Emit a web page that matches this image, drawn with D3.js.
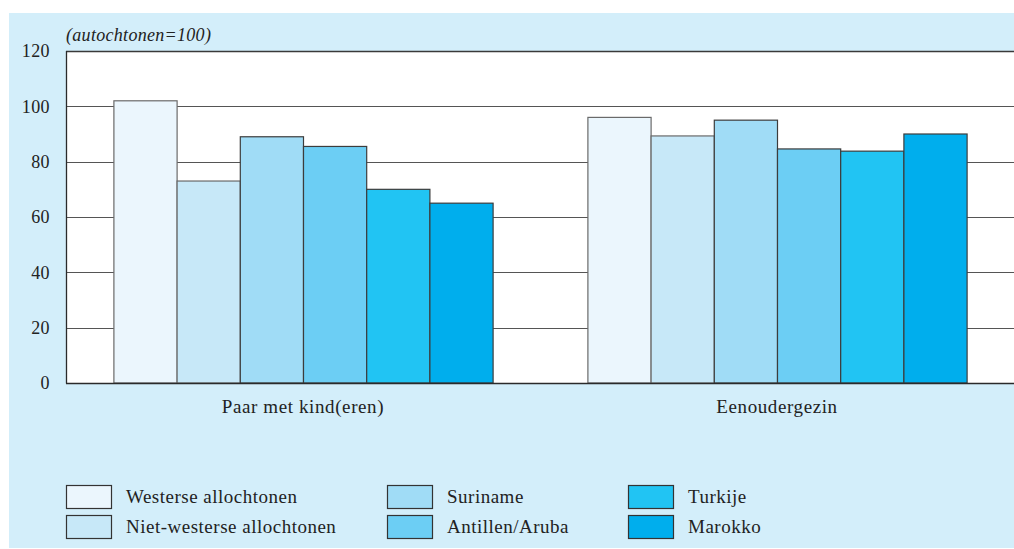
<!DOCTYPE html>
<html>
<head>
<meta charset="utf-8">
<script src="https://cdn.jsdelivr.net/npm/d3@7"></script>
<style>
  html, body { margin: 0; padding: 0; background: #ffffff; }
  svg { display: block; }
  text { font-family: "Liberation Serif", "DejaVu Serif", serif; fill: #222; }
</style>
</head>
<body>
<svg id="chart" width="1014" height="549"></svg>
<script>
// Household types and population groups (index, autochtonen = 100)
const categories = ["Paar met kind(eren)", "Eenoudergezin"];
const seriesNames = ["Westerse allochtonen", "Niet-westerse allochtonen", "Suriname", "Antillen/Aruba", "Turkije", "Marokko"];
const paarMetKind = [102, 73, 89, 85.5, 70, 65];
const eenoudergezin = [96, 89.3, 95, 84.6, 83.8, 90];
const yTicks = [0, 20, 40, 60, 80, 100, 120];
const colors = ["#ebf6fd", "#c7e8f8", "#a0dcf6", "#6ccef4", "#21c4f3", "#00aeed"];

const values = [paarMetKind, eenoudergezin];

const svg = d3.select("#chart");

// Panel background
svg.append("rect")
  .attr("x", 9).attr("y", 13)
  .attr("width", 1014 - 9).attr("height", 548 - 13)
  .attr("fill", "#d3eefa");

const plot = { left: 66, right: 1014, top: 51, bottom: 383 };

// White plotting area
svg.append("rect")
  .attr("x", plot.left).attr("y", plot.top)
  .attr("width", plot.right - plot.left).attr("height", plot.bottom - plot.top)
  .attr("fill", "#ffffff");

const y = d3.scaleLinear().domain([0, 120]).range([plot.bottom, plot.top]);
const x0 = d3.scaleBand().domain(categories).range([plot.left, plot.right])
  .paddingInner(0.2).paddingOuter(0.1);
const x1 = d3.scaleBand().domain(seriesNames).range([0, x0.bandwidth()]).padding(0);

// Horizontal gridlines
svg.append("g")
  .selectAll("line")
  .data(yTicks.filter(t => t > 0))
  .join("line")
  .attr("x1", plot.left).attr("x2", plot.right)
  .attr("y1", d => Math.round(y(d)) + 0.5).attr("y2", d => Math.round(y(d)) + 0.5)
  .attr("stroke", d => d === 120 ? "#3a3a3a" : "#555")
  .attr("stroke-width", d => d === 120 ? 1.4 : 1);

// Bars
const groups = svg.append("g")
  .selectAll("g")
  .data(categories)
  .join("g")
  .attr("transform", d => `translate(${x0(d)},0)`);

groups.selectAll("rect")
  .data((c, i) => seriesNames.map((s, j) => ({ s, v: values[i][j], j })))
  .join("rect")
  .attr("x", d => x1(d.s) + 0.5)
  .attr("y", d => y(d.v))
  .attr("width", x1.bandwidth())
  .attr("height", d => y(0) - y(d.v))
  .attr("fill", d => colors[d.j])
  .attr("stroke", d => d.j < 2 ? "#6a6a6a" : "#3c3c3c")
  .attr("stroke-width", 1.2);

// Axis lines (left and bottom)
svg.append("line")
  .attr("x1", plot.left + 0.5).attr("x2", plot.left + 0.5)
  .attr("y1", plot.top).attr("y2", plot.bottom + 0.5)
  .attr("stroke", "#2a2a2a").attr("stroke-width", 1.3);
svg.append("line")
  .attr("x1", plot.left).attr("x2", plot.right)
  .attr("y1", plot.bottom + 0.5).attr("y2", plot.bottom + 0.5)
  .attr("stroke", "#2a2a2a").attr("stroke-width", 1.3);

// Y tick labels
const yAxis = d3.axisLeft(y).tickValues(yTicks).tickSize(0).tickPadding(16);
const ya = svg.append("g").attr("transform", `translate(${plot.left},0)`).call(yAxis);
ya.select(".domain").remove();
ya.selectAll("text")
  .attr("font-family", "Liberation Serif, serif")
  .attr("font-size", 18)
  .attr("letter-spacing", 0.4)
  .attr("fill", "#222");

// Unit note
svg.append("text")
  .attr("x", 66).attr("y", 41)
  .attr("font-size", 18)
  .attr("letter-spacing", 0.3)
  .attr("font-style", "italic")
  .text("(autochtonen=100)");

// Category labels
svg.append("g")
  .selectAll("text")
  .data(categories)
  .join("text")
  .attr("x", d => x0(d) + x0.bandwidth() / 2)
  .attr("y", 413)
  .attr("text-anchor", "middle")
  .attr("font-size", 19)
  .attr("letter-spacing", 0.6)
  .text(d => d);

// Legend: three columns, two rows
const legendCols = [66, 387, 628];
const legendRows = [485, 515];
const legend = svg.append("g")
  .selectAll("g")
  .data(seriesNames)
  .join("g")
  .attr("transform", (d, i) => `translate(${legendCols[Math.floor(i / 2)]},${legendRows[i % 2]})`);

legend.append("rect")
  .attr("x", 0.5).attr("y", 0.5)
  .attr("width", 45).attr("height", 23)
  .attr("fill", (d, i) => colors[i])
  .attr("stroke", "#333").attr("stroke-width", 1.2);

legend.append("text")
  .attr("x", 60).attr("y", 18)
  .attr("font-size", 19)
  .attr("letter-spacing", 0.5)
  .text(d => d);
</script>
</body>
</html>
